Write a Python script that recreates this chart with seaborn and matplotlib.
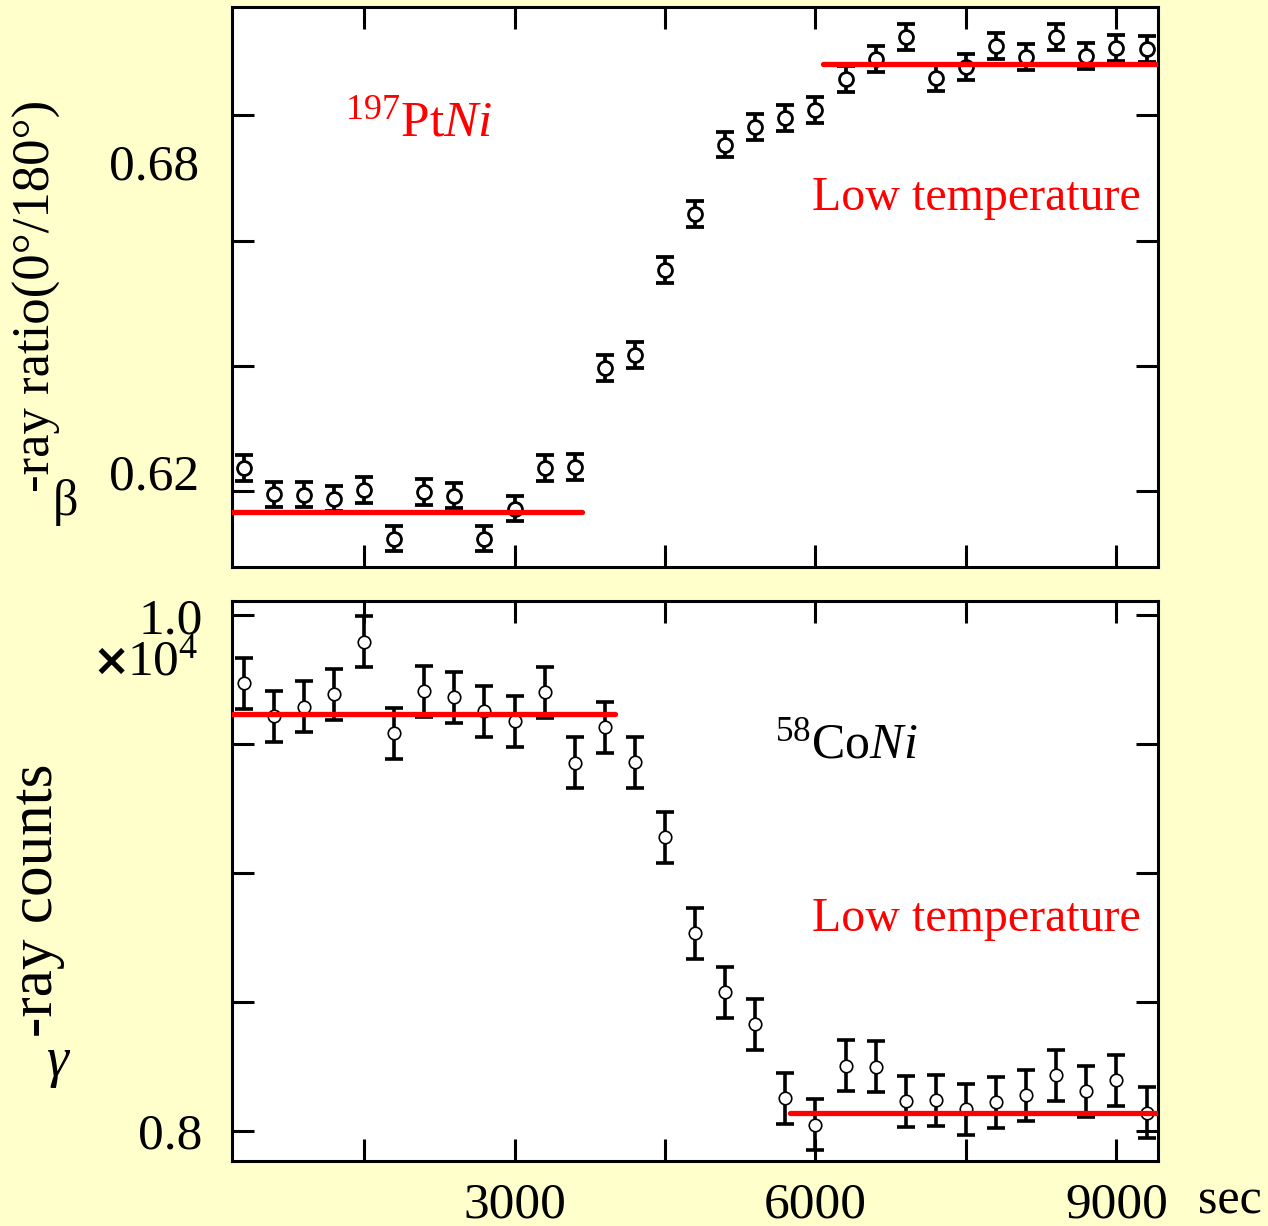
import matplotlib
matplotlib.use("Agg")
import matplotlib.pyplot as plt
import numpy as np
import pandas as pd
import seaborn as sns
from matplotlib.ticker import FixedLocator, FixedFormatter, NullFormatter

# ---------------- data ----------------
time_sec = [300, 600, 900, 1200, 1500, 1800, 2100, 2400, 2700, 3000, 3300,
            3600, 3900, 4200, 4500, 4800, 5100, 5400, 5700, 6000, 6300, 6600,
            6900, 7200, 7500, 7800, 8100, 8400, 8700, 9000, 9300]

pt_ratio = [0.6207, 0.6157, 0.6156, 0.6148, 0.6165, 0.6071, 0.6161, 0.6154,
            0.6071, 0.6129, 0.6207, 0.6210, 0.6401, 0.6426, 0.6590, 0.6699,
            0.6833, 0.6867, 0.6885, 0.6900, 0.6960, 0.6999, 0.7041, 0.6962,
            0.6983, 0.7023, 0.7003, 0.7041, 0.7005, 0.7019, 0.7017]
pt_err = [0.0025, 0.0024, 0.0024, 0.0024, 0.0025, 0.0025, 0.0025, 0.0024,
          0.0025, 0.0025, 0.0025, 0.0025, 0.0025, 0.0025, 0.0025, 0.0025,
          0.0025, 0.0025, 0.0025, 0.0025, 0.0025, 0.0025, 0.0025, 0.0025,
          0.0025, 0.0025, 0.0025, 0.0025, 0.0025, 0.0025, 0.0025]

# gamma-ray counts in units of 1e4
co_counts = [0.9737, 0.9608, 0.9646, 0.9694, 0.9897, 0.9542, 0.9705, 0.9682,
             0.9628, 0.9589, 0.9701, 0.9428, 0.9566, 0.9430, 0.9139, 0.8767,
             0.8537, 0.8413, 0.8126, 0.8023, 0.8252, 0.8248, 0.8114, 0.8118,
             0.8083, 0.8111, 0.8138, 0.8215, 0.8153, 0.8196, 0.8070]
co_err = [0.0099, 0.0099, 0.0099, 0.0099, 0.0099, 0.0099, 0.0099, 0.0099,
          0.0099, 0.0099, 0.0099, 0.0099, 0.0099, 0.0099, 0.0099, 0.0099,
          0.0099, 0.0099, 0.0099, 0.0099, 0.0099, 0.0099, 0.0099, 0.0099,
          0.0099, 0.0099, 0.0099, 0.0099, 0.0099, 0.0099, 0.0099]

# red reference levels (start, end, level)
pt_fit_start = [184, 6070]
pt_fit_end = [3673, 9414]
pt_fit_level = [0.6123, 0.6989]

co_fit_start = [184, 5741]
co_fit_end = [4002, 9414]
co_fit_level = [0.9618, 0.8068]

x_ticks = [1500, 3000, 4500, 6000, 7500, 9000]
x_tick_labels = ["", "3000", "", "6000", "", "9000"]
pt_tick_values = [0.62, 0.68]
pt_tick_labels = ["0.62", "0.68"]
pt_minor_ticks = [0.6163, 0.6405, 0.6646, 0.6890]
co_ticks = [0.80, 0.85, 0.90, 0.95, 1.00]
co_tick_labels = ["0.8", "", "", "", "1.0"]

# ---------------- style ----------------
sns.set_style("ticks")
plt.rcParams["font.family"] = ["Liberation Serif", "DejaVu Serif"]
plt.rcParams["mathtext.fontset"] = "custom"
plt.rcParams["mathtext.rm"] = "Liberation Serif"
plt.rcParams["mathtext.it"] = "Liberation Serif:italic"
plt.rcParams["mathtext.bf"] = "Liberation Serif:bold"
for key in ["text.color", "axes.labelcolor", "xtick.color", "ytick.color",
            "axes.edgecolor"]:
    plt.rcParams[key] = "black"

BG = "#FFFFCC"
RED = "#FF0000"
W, H = 1268, 1226
fig = plt.figure(figsize=(W / 100, H / 100), dpi=100, facecolor=BG)
ax1 = fig.add_axes([232 / W, 1 - 567 / H, 926 / W, 560 / H])
ax2 = fig.add_axes([232 / W, 1 - 1161 / H, 926 / W, 560 / H])


def segments(starts, ends, levels):
    rows = []
    for i, (s, e, l) in enumerate(zip(starts, ends, levels)):
        rows.append({"t": s, "v": l, "seg": i})
        rows.append({"t": e, "v": l, "seg": i})
    return pd.DataFrame(rows)


def draw(ax, y, yerr, fit_df, lw_err, ms, mew):
    ax.set_facecolor("white")
    ax.errorbar(time_sec, y, yerr=yerr, fmt="none", ecolor="black",
                elinewidth=lw_err, capsize=6.5, capthick=lw_err, zorder=2)
    sns.scatterplot(x=time_sec, y=y, ax=ax, marker="o", s=ms ** 2,
                    color="white", edgecolor="black", linewidth=mew,
                    zorder=3, legend=False)
    sns.lineplot(data=fit_df, x="t", y="v", units="seg", estimator=None,
                 color=RED, linewidth=3.8, ax=ax, zorder=4, legend=False)
    ax.set_xlim(184, 9414)
    ax.set_xlabel("")
    ax.set_ylabel("")
    for sp in ax.spines.values():
        sp.set_linewidth(2.2)
        sp.set_color("black")
        sp.set_visible(True)
    ax.xaxis.set_major_locator(FixedLocator(x_ticks))
    ax.tick_params(axis="x", which="major", direction="in", length=16,
                   width=2.2, top=True, bottom=True, labelsize=37, pad=15,
                   colors="black")


# ---- top panel ----
draw(ax1, pt_ratio, pt_err, segments(pt_fit_start, pt_fit_end, pt_fit_level),
     2.7, 10.0, 2.0)
ax1.set_ylim(0.6016, 0.7099)
ax1.xaxis.set_major_formatter(NullFormatter())
ax1.yaxis.set_major_locator(FixedLocator(pt_tick_values))
ax1.yaxis.set_major_formatter(FixedFormatter(pt_tick_labels))
ax1.yaxis.set_minor_locator(FixedLocator(pt_minor_ticks))
ax1.tick_params(axis="y", which="major", length=0, labelsize=37, pad=24,
                left=True, right=False, colors="black")
ax1.tick_params(axis="y", which="minor", direction="in", length=16,
                width=2.2, left=True, right=True, labelleft=False,
                colors="black")

ax1.text(0.122, 0.771, r"$^{197}\mathrm{Pt}\mathit{Ni}$", transform=ax1.transAxes,
         color=RED, fontsize=37, ha="left", va="baseline")
ax1.text(0.6263, 0.6375, "Low temperature", transform=ax1.transAxes,
         color=RED, fontsize=34.5, ha="left", va="baseline")

# ---- bottom panel ----
draw(ax2, co_counts, co_err, segments(co_fit_start, co_fit_end, co_fit_level),
     2.6, 9.0, 1.2)
ax2.set_ylim(0.7882, 1.0056)
ax2.xaxis.set_major_formatter(FixedFormatter(x_tick_labels))
ax2.yaxis.set_major_locator(FixedLocator(co_ticks))
ax2.yaxis.set_major_formatter(FixedFormatter(co_tick_labels))
ax2.tick_params(axis="y", which="major", direction="in", length=16,
                width=2.2, left=True, right=True, labelsize=37, pad=21,
                colors="black")

ax2.text(0.5864, 0.7196, r"$^{58}\mathrm{Co}\mathit{Ni}$", transform=ax2.transAxes,
         color="black", fontsize=36, ha="left", va="baseline")
ax2.text(0.6263, 0.4107, "Low temperature", transform=ax2.transAxes,
         color=RED, fontsize=34.5, ha="left", va="baseline")

# ---- figure-level text ----
fig.text(1198 / W, 1 - 1214 / H, "sec", fontsize=36, va="baseline", ha="left")
fig.text(92 / W, 1 - 675 / H, "×", fontsize=32, fontweight="bold",
         family=["DejaVu Sans"], va="baseline", ha="left")
fig.text(127 / W, 1 - 675 / H, r"10$^{4}$", fontsize=37, va="baseline", ha="left")

fig.text(37 / W, 1 - 492 / H, "-ray ratio(0°/180°)", rotation=90, fontsize=38,
         ha="center", va="bottom")
fig.text(65 / W, 1 - 502 / H, "β", fontsize=36, ha="center", va="center")
fig.text(37 / W, 1 - 1037 / H, "-ray counts", rotation=90, fontsize=44,
         ha="center", va="bottom")
fig.text(58 / W, 1 - 1062 / H, "γ", fontsize=40, style="italic",
         ha="center", va="center")

fig.savefig("out.png", dpi=100, facecolor=fig.get_facecolor())
